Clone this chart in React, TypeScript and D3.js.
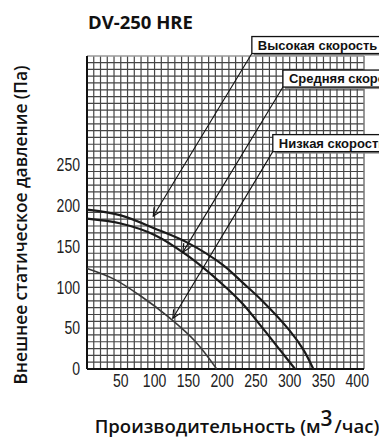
import React from 'react';
import * as d3 from 'd3';

const title = 'DV-250 HRE';
const yAxisLabel = 'Внешнее статическое давление (Па)';
const xAxisLabelMain = 'Производительность (м';
const xAxisLabelSup = '3';
const xAxisLabelTail = '/час)';

const xTicks = [50, 100, 150, 200, 250, 300, 350, 400];
const yTicks = [0, 50, 100, 150, 200, 250];

const highSpeed: [number, number][] = [
  [0, 195], [50, 188], [100, 172], [150, 154], [200, 128], [230, 106], [260, 83], [300, 47], [320, 24], [335, 0],
];
const mediumSpeed: [number, number][] = [
  [0, 184], [50, 178], [100, 164], [150, 138], [200, 104], [230, 80], [260, 50], [285, 24], [308, 0],
];
const lowSpeed: [number, number][] = [
  [0, 123], [40, 110], [80, 89], [120, 64], [160, 34], [192, 0],
];

const seriesLabels = ['Высокая скорость', 'Средняя скорость', 'Низкая скорость'];
// arrow tip and label-box anchor (bottom-left corner) in data units
const calloutTips: [number, number][] = [[98, 187], [142, 143], [127, 62]];
const calloutAnchors: [number, number][] = [[244, 386], [290, 345], [275, 266]];

const W = 379;
const H = 443;

export default function App() {
  const x = d3.scaleLinear().domain([0, 410]).range([87, 364]);
  const y = d3.scaleLinear().domain([0, 383]).range([369, 56]);

  const vGrid = d3.range(10, 410, 10);
  const hGrid = d3.range(1, 46).map((i) => (i * 50) / 6).filter((v) => v < 383);

  const line = d3
    .line<[number, number]>()
    .x((d) => x(d[0]))
    .y((d) => y(d[1]))
    .curve(d3.curveCatmullRom.alpha(0.5));

  const tickFont = "'Liberation Sans', Arial, sans-serif";

  return (
    <svg width={W} height={H} style={{ position: 'absolute', left: 0, top: 0, background: '#fff' }}>
      <rect x={0} y={0} width={W} height={H} fill="#fff" />
      {/* grid */}
      <g stroke="#454545" strokeWidth={1.2}>
        {vGrid.map((v) => (
          <line key={'v' + v} x1={x(v)} x2={x(v)} y1={y(383)} y2={y(0)} />
        ))}
        {hGrid.map((v) => (
          <line key={'h' + v} x1={x(0)} x2={x(410)} y1={y(v)} y2={y(v)} />
        ))}
      </g>
      {/* frame */}
      <line x1={x(0)} x2={x(410)} y1={y(383)} y2={y(383)} stroke="#999" strokeWidth={1.5} />
      <line x1={x(410)} x2={x(410)} y1={y(383)} y2={y(0)} stroke="#777" strokeWidth={1.5} />
      <line x1={x(0)} x2={x(0)} y1={y(383)} y2={y(0)} stroke="#111" strokeWidth={2} />
      <line x1={x(0)} x2={x(410)} y1={y(0)} y2={y(0)} stroke="#111" strokeWidth={2} />

      {/* curves */}
      <path d={line(highSpeed) || ''} fill="none" stroke="#1a1a1a" strokeWidth={2.2} />
      <path d={line(mediumSpeed) || ''} fill="none" stroke="#1a1a1a" strokeWidth={2.2} />
      <path d={line(lowSpeed) || ''} fill="none" stroke="#3a3a3a" strokeWidth={1.6} />

      {/* y ticks */}
      <g fontFamily={tickFont} fontSize={18} fill="#222" textAnchor="end">
        {yTicks.map((t) => (
          <text key={'yt' + t} transform={`translate(80, ${y(t)}) scale(0.78, 1)`} dy="0.35em">
            {t}
          </text>
        ))}
      </g>
      {/* x ticks */}
      <g fontFamily={tickFont} fontSize={18} fill="#222" textAnchor="middle">
        {xTicks.map((t) => (
          <text key={'xt' + t} transform={`translate(${x(t)}, 387) scale(0.78, 1)`}>
            {t}
          </text>
        ))}
      </g>

      {/* callouts */}
      {seriesLabels.map((lab, i) => {
        const tx = x(calloutTips[i][0]);
        const ty = y(calloutTips[i][1]);
        const ax = x(calloutAnchors[i][0]);
        const ay = y(calloutAnchors[i][1]);
        const ang = Math.atan2(ay - ty, ax - tx);
        const len = 9;
        const spread = 0.45;
        const w1x = tx + len * Math.cos(ang + spread);
        const w1y = ty + len * Math.sin(ang + spread);
        const w2x = tx + len * Math.cos(ang - spread);
        const w2y = ty + len * Math.sin(ang - spread);
        const bh = 17;
        return (
          <g key={'c' + i}>
            <line x1={tx} y1={ty} x2={ax} y2={ay} stroke="#111" strokeWidth={1.1} />
            <polyline points={`${w1x},${w1y} ${tx},${ty} ${w2x},${w2y}`} fill="none" stroke="#111" strokeWidth={1.1} />
            <rect x={ax + 2} y={ay - bh + 2} width={170} height={bh} fill="#888" />
            <rect x={ax} y={ay - bh} width={170} height={bh} fill="#fff" stroke="#111" strokeWidth={1.3} />
            <text
              x={ax + 6}
              y={ay - bh / 2}
              dy="0.36em"
              fontFamily="'Liberation Sans', Arial, sans-serif"
              fontWeight="bold"
              fontSize={13}
              fill="#111"
            >
              {lab}
            </text>
          </g>
        );
      })}

      {/* title */}
      <text x={88} y={29} fontFamily="'Open Sans', sans-serif" fontWeight="bold" fontSize={18.5} fill="#111">
        {title}
      </text>

      {/* y axis label */}
      <text
        transform={`translate(27, 225) rotate(-90)`}
        textAnchor="middle"
        fontFamily="'Open Sans', sans-serif"
        fontWeight={600}
        fontSize={17.3}
        fill="#111"
      >
        {yAxisLabel}
      </text>

      {/* x axis label */}
      <text x={237} y={433} textAnchor="middle" fontFamily="'Open Sans', sans-serif" fontWeight={600} fontSize={18.5} fill="#111">
        {xAxisLabelMain}
        <tspan dy={-7} fontSize={21}>{xAxisLabelSup}</tspan>
        <tspan dy={7} dx={2}>{xAxisLabelTail}</tspan>
      </text>
    </svg>
  );
}
